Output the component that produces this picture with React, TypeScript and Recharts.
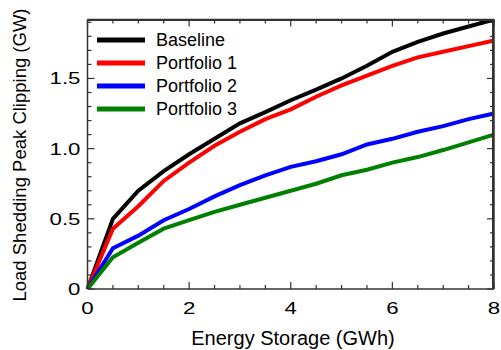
import React from "react";
import { LineChart, Line, XAxis, YAxis, ReferenceLine } from "recharts";

const storage = [0, 0.5, 1, 1.5, 2, 2.5, 3, 3.5, 4, 4.5, 5, 5.5, 6, 6.5, 7, 7.5, 8];
const baseline = [0, 0.5, 0.7, 0.84, 0.96, 1.07, 1.18, 1.26, 1.345, 1.42, 1.5, 1.59, 1.69, 1.76, 1.82, 1.87, 1.92];
const portfolio1 = [0, 0.43, 0.59, 0.77, 0.9, 1.02, 1.12, 1.21, 1.28, 1.37, 1.45, 1.52, 1.59, 1.65, 1.69, 1.73, 1.77];
const portfolio2 = [0, 0.29, 0.38, 0.49, 0.57, 0.66, 0.74, 0.81, 0.87, 0.91, 0.96, 1.03, 1.07, 1.12, 1.16, 1.21, 1.25];
const portfolio3 = [0, 0.226, 0.33, 0.43, 0.49, 0.55, 0.6, 0.65, 0.7, 0.75, 0.81, 0.85, 0.9, 0.94, 0.99, 1.045, 1.1];

const seriesNames = ["Baseline", "Portfolio 1", "Portfolio 2", "Portfolio 3"];
const seriesColors = ["#000000", "#ff0000", "#0000ff", "#008000"];
const seriesKeys = ["b", "p1", "p2", "p3"];

const X_MAX = 8;
const Y_MAX = 1.92;
const xTicks = [0, 0.5, 1, 1.5, 2, 2.5, 3, 3.5, 4, 4.5, 5, 5.5, 6, 6.5, 7, 7.5, 8];
const xMajor = [0, 2, 4, 6, 8];
const yTicks = [0, 0.1, 0.2, 0.3, 0.4, 0.5, 0.6, 0.7, 0.8, 0.9, 1.0, 1.1, 1.2, 1.3, 1.4, 1.5, 1.6, 1.7, 1.8, 1.9];
const yMajor = [0, 0.5, 1.0, 1.5];
const yLabels = ["0", "0.5", "1.0", "1.5"];

const data = storage.map((x, i) => ({
  x,
  b: baseline[i],
  p1: portfolio1[i],
  p2: portfolio2[i],
  p3: portfolio3[i],
}));

const W = 501;
const H = 350;
const M = { top: 19.5, right: 7, bottom: 0, left: 0 };
const X_AXIS_H = 61;
const Y_AXIS_W = 87.5;
// plot box, from the margins and axis sizes above
const PL = M.left + Y_AXIS_W;
const PR = W - M.right;
const PT = M.top;
const PB = H - M.bottom - X_AXIS_H;

const FONT = "Liberation Sans, Arial, sans-serif";
const AXIS = "#333";
const STRETCH = 1.35;

const isMajorX = (v: number) => xMajor.some((m) => Math.abs(m - v) < 1e-6);
const majorYIndex = (v: number) => yMajor.findIndex((m) => Math.abs(m - v) < 1e-6);

function Tick(props: any) {
  const { x, y, payload, side } = props;
  const v = payload.value;
  if (side === "bottom") {
    const major = isMajorX(v);
    return (
      <g>
        <line x1={x} x2={x} y1={y} y2={y - (major ? 7 : 4)} stroke={AXIS} strokeWidth={1.2} />
        {major && (
          <text
            transform={`translate(${x},${y + 25}) scale(${STRETCH},1)`}
            textAnchor="middle"
            fontSize={16.5}
            fontFamily={FONT}
            fill="#000"
          >
            {v}
          </text>
        )}
      </g>
    );
  }
  const idx = majorYIndex(v);
  return (
    <g>
      <line x1={x} x2={x + (idx >= 0 ? 7 : 4)} y1={y} y2={y} stroke={AXIS} strokeWidth={1.2} />
      {idx >= 0 && (
        <text
          transform={`translate(${x - 7},${y + 6}) scale(${STRETCH},1)`}
          textAnchor="end"
          fontSize={16.5}
          fontFamily={FONT}
          fill="#000"
        >
          {yLabels[idx]}
        </text>
      )}
    </g>
  );
}

// top and right edges of the box with inward ticks (mirrors of the axes)
function Frame() {
  return (
    <>
      <div
        style={{
          position: "absolute",
          left: PL,
          top: PT - 1,
          width: PR - PL,
          height: PB - PT,
          borderTop: `2px solid ${AXIS}`,
          borderRight: `2px solid ${AXIS}`,
          boxSizing: "border-box",
          pointerEvents: "none",
        }}
      />
      <svg
        width={W}
        height={H}
        style={{ position: "absolute", left: 0, top: 0, pointerEvents: "none", overflow: "visible" }}
      >
        {xTicks.map((v) => {
          const px = PL + (v / X_MAX) * (PR - PL);
          return <line key={"t" + v} x1={px} x2={px} y1={PT} y2={PT + (isMajorX(v) ? 7 : 4)} stroke={AXIS} strokeWidth={1.2} />;
        })}
        {yTicks.map((v) => {
          const py = PB - (v / Y_MAX) * (PB - PT);
          return <line key={"r" + v} x1={PR} x2={PR - (majorYIndex(v) >= 0 ? 7 : 4)} y1={py} y2={py} stroke={AXIS} strokeWidth={1.2} />;
        })}
      </svg>
    </>
  );
}

function LegendBox() {
  return (
    <div
      style={{
        position: "absolute",
        left: 97,
        top: 28.5,
        fontFamily: FONT,
        fontSize: 18,
        color: "#000",
        pointerEvents: "none",
      }}
    >
      {seriesNames.map((n, i) => (
        <div key={n} style={{ display: "flex", alignItems: "center", height: 23 }}>
          <svg width={48} height={6} style={{ marginRight: 11 }}>
            <rect x={0} y={0.5} width={48} height={5} fill={seriesColors[i]} />
          </svg>
          <span>{n}</span>
        </div>
      ))}
    </div>
  );
}

export default function App() {
  return (
    <div style={{ position: "absolute", left: 0, top: 0, width: W, height: H, background: "#fff" }}>
      <LineChart width={W} height={H} data={data} margin={M}>
        <XAxis
          dataKey="x"
          type="number"
          domain={[0, X_MAX]}
          ticks={xTicks}
          interval={0}
          height={X_AXIS_H}
          tickSize={0}
          tickMargin={0}
          tickLine={false}
          axisLine={{ stroke: AXIS, strokeWidth: 1.5 }}
          tick={<Tick side="bottom" />}
          label={() => (
            <text x={293} y={345} textAnchor="middle" fontSize={20} fontFamily={FONT} fill="#000">
              Energy Storage (GWh)
            </text>
          )}
        />
        <YAxis
          type="number"
          domain={[0, Y_MAX]}
          ticks={yTicks}
          interval={0}
          width={Y_AXIS_W}
          tickSize={0}
          tickMargin={0}
          tickLine={false}
          allowDataOverflow
          axisLine={{ stroke: AXIS, strokeWidth: 1.5 }}
          tick={<Tick side="left" />}
          label={() => (
            <text
              x={0}
              y={0}
              transform="translate(25.5,155) rotate(-90)"
              textAnchor="middle"
              fontSize={18.5}
              fontFamily={FONT}
              fill="#000"
            >
              Load Shedding Peak Clipping (GW)
            </text>
          )}
        />
        <ReferenceLine y={Y_MAX} stroke={AXIS} strokeWidth={1.5} ifOverflow="visible" />
        <ReferenceLine x={X_MAX} stroke={AXIS} strokeWidth={1.5} ifOverflow="visible" />
        {seriesKeys.map((k, i) => (
          <Line
            key={k}
            dataKey={k}
            name={seriesNames[i]}
            stroke={seriesColors[i]}
            strokeWidth={4}
            dot={false}
            isAnimationActive={false}
          />
        ))}
      </LineChart>
      <Frame />
      <LegendBox />
    </div>
  );
}
